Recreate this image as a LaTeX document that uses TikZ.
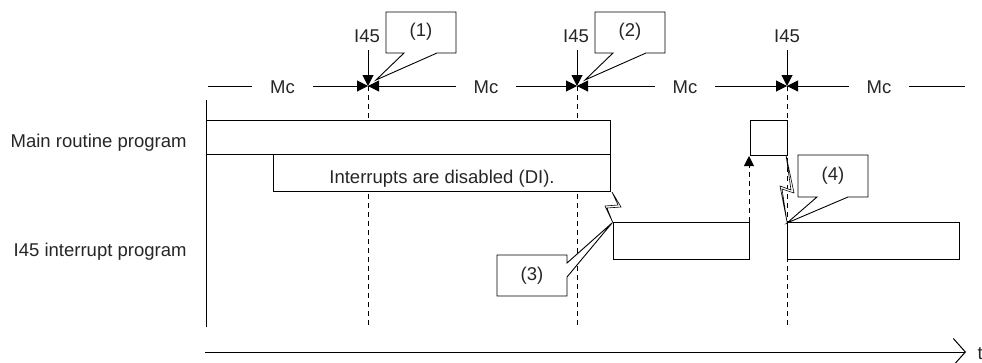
\documentclass[tikz,border=0pt]{standalone}
\usepackage{fontspec}
\setmainfont{Liberation Sans}
\usetikzlibrary{arrows.meta}
\begin{document}
\begin{tikzpicture}[x=1pt,y=-1pt,line width=1pt,
  every node/.style={font=\fontsize{18.5}{22}\selectfont,text=black!85,inner sep=0pt},
  tri/.style={-{Triangle[length=11pt,width=11pt]}},
  bothtri/.style={{Triangle[length=11pt,width=11pt]}-{Triangle[length=11pt,width=11pt]}},
  lefttri/.style={{Triangle[length=11pt,width=11pt]}-},
  dline/.style={dash pattern=on 5pt off 4pt,line width=0.9pt},
  boxst/.style={draw,fill=white,line width=1pt},
  callst/.style={draw,fill=white,line width=0.9pt},
  boltst/.style={draw,fill=white,line width=0.6pt},
  mcst/.style={fill=white,inner xsep=18pt,inner ysep=3pt,anchor=base}]
\useasboundingbox (0,0) rectangle (982,362);

% coordinates
\coordinate (a0) at (208,86);
\coordinate (t1) at (368,86);
\coordinate (t2) at (577,86);
\coordinate (t3) at (787,86);
\coordinate (a4) at (965,86);
\coordinate (i1) at (368,50);
\coordinate (i2) at (577,50);
\coordinate (i3) at (787,50);
\coordinate (b1) at (368,327);
\coordinate (b2) at (577,327);
\coordinate (b3) at (787,327);
\coordinate (ax0) at (206,100);
\coordinate (ax1) at (206,327);
\coordinate (tx0) at (205,352);
\coordinate (tx1) at (966,352);

% dashed timing lines
\draw[dline] (t1) -- (b1);
\draw[dline] (t2) -- (b2);
\draw[dline] (t3) -- (b3);

% axes
\draw (ax0) -- (ax1);
\draw[-{Straight Barb[length=12pt,width=27pt]}] (tx0) -- (tx1);
\node[anchor=base west] (tlbl) at (977,359) {t};

% labels
\node[anchor=base east] (mainlbl) at (187,147) {Main routine program};
\node[anchor=base east] (intlbl) at (187,256) {I45 interrupt program};

% main routine boxes
\draw[boxst] (206,120) rectangle (610,154);
\draw[boxst] (273,154) rectangle (610,191);
\node[anchor=base] (di) at (442,183) {Interrupts are disabled (DI).};
\draw[boxst] (750,120) rectangle (787,155);

% interrupt boxes
\draw[boxst] (613,222) rectangle (749,259);
\draw[boxst] (787,222) rectangle (959,259);

% return arrow
\coordinate (r0) at (749,222);
\coordinate (r1) at (749,156);
\draw[dline,-{Triangle[length=10pt,width=10pt]}] (r0) -- (r1);

% bolts
\draw[boltst] (612,192) -- (621,207) -- (607,208) -- (613,223) -- (605,206) -- (618,205) -- cycle;
\draw[boltst] (786,155) -- (794,193) -- (782,189) -- (787,222) -- (780,186) -- (791,190) -- cycle;

% Mc row
\draw[tri] (a0) -- (t1);
\draw[bothtri] (t1) -- (t2);
\draw[bothtri] (t2) -- (t3);
\draw[lefttri] (t3) -- (a4);
\node[mcst] (mc1) at (282.5,93) {Mc};
\node[mcst] (mc2) at (486,93) {Mc};
\node[mcst] (mc3) at (685,93) {Mc};
\node[mcst] (mc4) at (879,93) {Mc};

% I45 arrows
\draw[tri] (i1) -- (t1);
\draw[tri] (i2) -- (t2);
\draw[tri] (i3) -- (t3);
\node (l1) at (367,36) {I45};
\node (l2) at (576,36) {I45};
\node (l3) at (787,36) {I45};

% callouts
\draw[callst] (386,12) -- (456,12) -- (456,53) -- (437,53) -- (376,80) -- (404,53) -- (386,53) -- cycle;
\node (c1) at (421,32) {(1)};
\draw[callst] (595,12) -- (665,12) -- (665,53) -- (646,53) -- (585,80) -- (613,53) -- (595,53) -- cycle;
\node (c2) at (630,32) {(2)};
\draw[callst] (497,255) -- (567,255) -- (567,263) -- (612,223) -- (567,277) -- (567,296) -- (497,296) -- cycle;
\node (c3) at (532,276) {(3)};
\draw[callst] (798,155) -- (868,155) -- (868,197) -- (848,197) -- (787,223) -- (817,197) -- (798,197) -- cycle;
\node (c4) at (833,176) {(4)};
\end{tikzpicture}
\end{document}
